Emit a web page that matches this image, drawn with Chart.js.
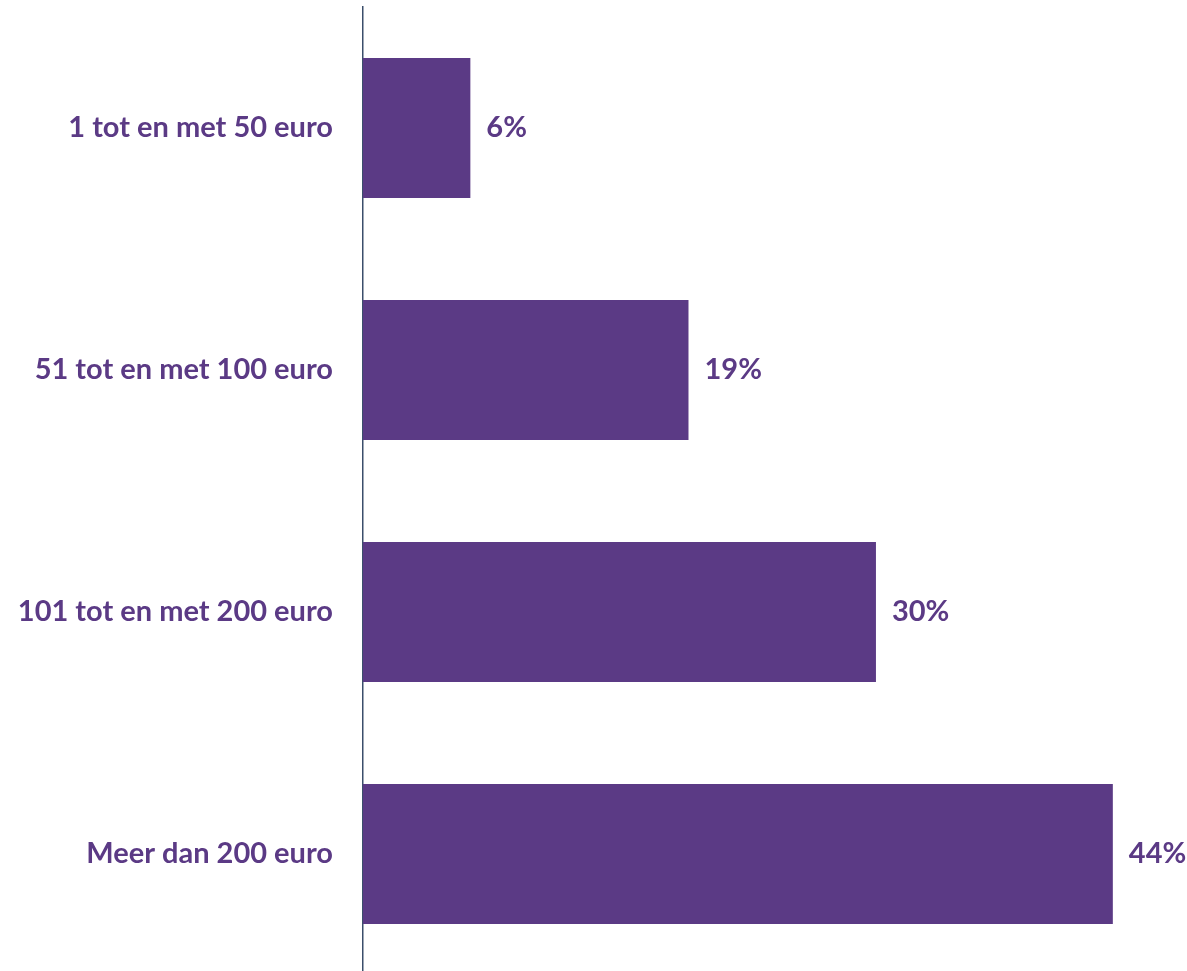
<!DOCTYPE html>
<html>
<head>
<meta charset="utf-8">
<script src="https://cdn.jsdelivr.net/npm/chart.js@4/dist/chart.umd.min.js"></script>
<style>
  html, body { margin: 0; padding: 0; background: #ffffff; overflow: hidden; }
  #wrap { position: relative; width: 1187px; height: 976px; }
</style>
</head>
<body>
<div id="wrap"><canvas id="c"></canvas></div>
<script>
const categories = ["1 tot en met 50 euro", "51 tot en met 100 euro", "101 tot en met 200 euro", "Meer dan 200 euro"];
const values = [6.3, 19.1, 30.1, 44.0];
const valueLabels = ["6%", "19%", "30%", "44%"];

const purple = "#5b3a85";
const fontFamily = "Lato, 'Open Sans', sans-serif";

const valueLabelPlugin = {
  id: "valueLabels",
  afterDatasetsDraw(chart) {
    const ctx = chart.ctx;
    const meta = chart.getDatasetMeta(0);
    ctx.save();
    ctx.fillStyle = purple;
    ctx.font = "bold 29px " + fontFamily;
    ctx.textAlign = "left";
    ctx.textBaseline = "middle";
    meta.data.forEach((bar, i) => {
      ctx.fillText(valueLabels[i], bar.x + 16, bar.y);
    });
    ctx.restore();
  }
};

new Chart(document.getElementById("c"), {
  type: "bar",
  data: {
    labels: categories,
    datasets: [{
      data: values,
      backgroundColor: purple,
      borderWidth: 0,
      barPercentage: 1,
      categoryPercentage: 0.578
    }]
  },
  options: {
    indexAxis: "y",
    responsive: true,
    maintainAspectRatio: false,
    animation: false,
    layout: { padding: { top: 7, bottom: 1, left: 0, right: 6 } },
    plugins: { legend: { display: false }, tooltip: { enabled: false } },
    scales: {
      x: {
        min: 0,
        max: 48,
        display: false,
        grid: { display: false }
      },
      y: {
        grid: { display: false, drawTicks: false },
        border: { display: true, color: "#3b4e6b", width: 1.5 },
        ticks: {
          color: purple,
          padding: 30,
          font: { family: fontFamily, size: 29, weight: "bold" }
        },
        afterFit(scale) {
          scale.width = 363;
          scale.paddingTop = 0;
          scale.paddingBottom = 0;
        }
      }
    }
  },
  plugins: [valueLabelPlugin]
});
</script>
</body>
</html>
